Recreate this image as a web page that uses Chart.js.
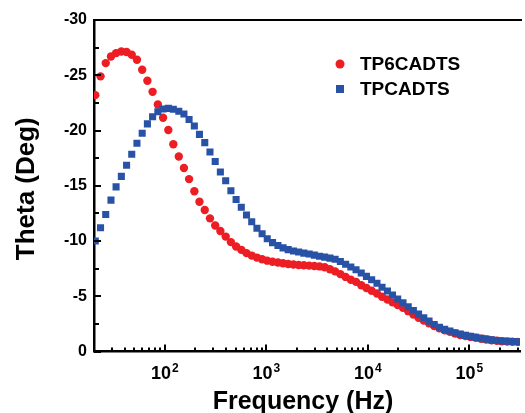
<!DOCTYPE html>
<html><head><meta charset="utf-8">
<script src="https://cdn.jsdelivr.net/npm/chart.js@4"></script>
<style>html,body{margin:0;padding:0;background:#fff;overflow:hidden}</style>
</head><body>
<canvas id="c" width="525" height="413"></canvas>
<script>
// Frequencies (Hz)
const frequencies = [
  20.6, 23.2, 26.1, 29.4, 33.0, 37.2, 41.9, 47.1, 53.0, 59.7,
  67.2, 75.6, 85.2, 95.9, 108, 121, 137, 154, 173, 195,
  219, 247, 278, 313, 352, 397, 447, 503, 566, 637,
  717, 807, 908, 1020, 1150, 1300, 1460, 1640, 1850, 2080,
  2340, 2640, 2970, 3340, 3760, 4230, 4760, 5360, 6040, 6800,
  7650, 8610, 9690, 10900, 12300, 13800, 15600, 17500, 19700, 22200,
  25000, 28100, 31600, 35600, 40100, 45100, 50800, 57200, 64400, 72500,
  81600, 91800, 103000, 116000, 131000, 147000, 166000, 187000, 210000, 237000,
  266000, 300000
];
// Theta (Deg) – TP6CADTS
const tp6cadts = [
  -23.2, -24.9, -26.1, -26.7, -27.0, -27.15, -27.1, -26.85, -26.4, -25.5,
  -24.5, -23.5, -22.35, -21.15, -20.05, -18.75, -17.65, -16.6, -15.6, -14.5,
  -13.55, -12.8, -12.05, -11.4, -10.9, -10.4, -9.9, -9.5, -9.2, -8.9,
  -8.68, -8.5, -8.35, -8.22, -8.12, -8.05, -7.98, -7.92, -7.87, -7.83,
  -7.8, -7.77, -7.74, -7.7, -7.62, -7.45, -7.25, -7.0, -6.75, -6.5,
  -6.3, -6.0, -5.75, -5.5, -5.25, -4.95, -4.7, -4.45, -4.2, -3.95,
  -3.65, -3.35, -3.05, -2.8, -2.55, -2.3, -2.1, -1.92, -1.78, -1.63,
  -1.5, -1.4, -1.32, -1.24, -1.16, -1.08, -1.02, -0.97, -0.93, -0.9,
  -0.88, -0.87
];
// Theta (Deg) – TPCADTS
const tpcadts = [
  -10.0, -11.2, -12.4, -13.7, -14.9, -15.85, -16.85, -17.85, -18.85, -19.75,
  -20.6, -21.25, -21.7, -21.95, -22.0, -21.92, -21.75, -21.5, -21.0, -20.4,
  -19.65, -18.9, -18.05, -17.2, -16.25, -15.45, -14.55, -13.75, -13.05, -12.35,
  -11.75, -11.15, -10.65, -10.2, -9.85, -9.6, -9.38, -9.22, -9.1, -9.0,
  -8.9, -8.82, -8.72, -8.62, -8.54, -8.45, -8.35, -8.15, -7.9, -7.65,
  -7.4, -7.1, -6.8, -6.5, -6.17, -5.82, -5.48, -5.12, -4.75, -4.4,
  -4.05, -3.7, -3.38, -3.05, -2.75, -2.45, -2.2, -2.0, -1.85, -1.7,
  -1.57, -1.46, -1.37, -1.28, -1.2, -1.12, -1.05, -0.99, -0.95, -0.92,
  -0.9, -0.88
];
const seriesNames = ['TP6CADTS', 'TPCADTS'];
const xDecadeLabels = [2, 3, 4, 5];
const xTitle = 'Frequency (Hz)';
const yTitle = 'Theta (Deg)';

const RED = 'rgb(236,30,36)';
const BLUE = 'rgb(40,82,166)';
const FONT = '"Liberation Sans", Arial, Helvetica, sans-serif';

const toPoints = (ys) => frequencies.map((f, i) => ({x: f, y: ys[i]}));

const decor = {
  id: 'decor',
  afterDraw(chart) {
    const ctx = chart.ctx;
    const xs = chart.scales.x, ys = chart.scales.y;
    const a = chart.chartArea;
    ctx.save();
    ctx.strokeStyle = '#000';
    ctx.fillStyle = '#000';
    ctx.lineWidth = 2;
    // top frame line
    ctx.beginPath();
    ctx.moveTo(a.left - 1, a.top);
    ctx.lineTo(a.right + 2, a.top);
    ctx.stroke();
    // y ticks (inward)
    for (let v = ys.min; v <= ys.max + 0.001; v += 2.5) {
      const py = Math.round(ys.getPixelForValue(v));
      const major = Math.abs(v % 5) < 0.001;
      ctx.beginPath();
      ctx.moveTo(a.left, py);
      ctx.lineTo(a.left + (major ? 7 : 5), py);
      ctx.stroke();
    }
    // x ticks (inward)
    for (let d = 1; d <= 6; d++) {
      for (let m = 1; m <= 9; m++) {
        const v = m * Math.pow(10, d);
        if (v < xs.min || v > xs.max) continue;
        const px = Math.round(xs.getPixelForValue(v));
        ctx.beginPath();
        ctx.moveTo(px, a.bottom);
        ctx.lineTo(px, a.bottom - (m === 1 ? 7 : 4));
        ctx.stroke();
      }
    }
    // x tick labels with superscripts
    ctx.textBaseline = 'alphabetic';
    xDecadeLabels.forEach(d => {
      const px = xs.getPixelForValue(Math.pow(10, d));
      ctx.font = 'bold 18px ' + FONT;
      const w1 = ctx.measureText('10').width;
      ctx.font = 'bold 12px ' + FONT;
      const w2 = ctx.measureText(String(d)).width;
      const x0 = px - (w1 + w2 + 1) / 2;
      ctx.font = 'bold 18px ' + FONT;
      ctx.textAlign = 'left';
      ctx.fillText('10', x0, 379);
      ctx.font = 'bold 12px ' + FONT;
      ctx.fillText(String(d), x0 + w1 + 1, 372);
    });
    // axis titles
    ctx.font = 'bold 25px ' + FONT;
    ctx.textAlign = 'center';
    ctx.fillText(xTitle, (a.left + a.right) / 2 - 4, 409);
    ctx.save();
    ctx.font = 'bold 26px ' + FONT;
    ctx.translate(34, (a.top + a.bottom) / 2 + 3);
    ctx.rotate(-Math.PI / 2);
    ctx.fillText(yTitle, 0, 0);
    ctx.restore();
    // legend
    const ds = chart.data.datasets;
    const rows = [64, 89];
    ctx.font = 'bold 19px ' + FONT;
    ctx.textAlign = 'left';
    ctx.textBaseline = 'middle';
    ds.forEach((dset, i) => {
      const y = rows[i];
      ctx.fillStyle = dset.backgroundColor;
      if (dset.pointStyle === 'rect') {
        ctx.fillRect(340 - 4, y - 4, 8, 8);
      } else {
        ctx.beginPath();
        ctx.arc(340, y, 4.5, 0, Math.PI * 2);
        ctx.fill();
      }
      ctx.fillStyle = '#000';
      ctx.fillText(dset.label, 360, y + 1);
    });
    ctx.restore();
  }
};

new Chart(document.getElementById('c'), {
  type: 'scatter',
  data: {
    datasets: [
      {label: seriesNames[0], data: toPoints(tp6cadts), backgroundColor: RED, borderColor: RED,
       pointStyle: 'circle', pointRadius: 4.2, pointBorderWidth: 0, showLine: false, order: 1},
      {label: seriesNames[1], data: toPoints(tpcadts), backgroundColor: BLUE, borderColor: BLUE,
       pointStyle: 'rect', pointRadius: 5, pointBorderWidth: 0, showLine: false, order: 0}
    ]
  },
  options: {
    responsive: false,
    animation: false,
    devicePixelRatio: 1,
    layout: {padding: {top: 20, right: 0, left: 0, bottom: 0}},
    plugins: {legend: {display: false}, tooltip: {enabled: false}},
    scales: {
      x: {
        type: 'logarithmic', min: 20, max: 316000, position: 'bottom',
        grid: {display: false, drawTicks: false},
        border: {display: true, color: '#000', width: 2.5},
        ticks: {display: false},
        afterFit: s => { s.height = 61.5; }
      },
      y: {
        type: 'linear', min: -30, max: 0, reverse: true,
        grid: {display: false, drawTicks: false},
        border: {display: true, color: '#000', width: 2.5},
        ticks: {stepSize: 5, padding: 7, color: '#000',
                font: {family: FONT, size: 16, weight: 'bold'}},
        afterFit: s => { s.width = 94; }
      }
    }
  },
  plugins: [decor]
});
</script>
</body></html>
